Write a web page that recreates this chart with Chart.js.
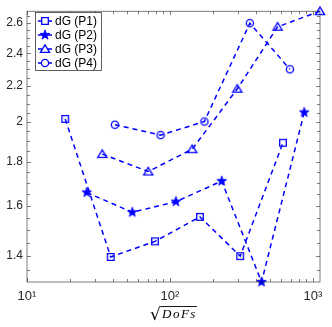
<!DOCTYPE html>
<html>
<head>
<meta charset="utf-8">
<script src="https://cdn.jsdelivr.net/npm/chart.js@4/dist/chart.umd.min.js"></script>
<style>
  html, body { margin: 0; padding: 0; background: #fff; }
</style>
</head>
<body>
<canvas id="myChart" width="332" height="327"></canvas>
<script>
// values
const labels = ['dG (P1)', 'dG (P2)', 'dG (P3)', 'dG (P4)'];
const dofsP1 = [18.5, 38.5, 78.5, 162, 310, 617];
const dgP1 = [2.016, 1.397, 1.456, 1.554, 1.400, 1.892];
const dofsP2 = [26.2, 54.5, 110, 230, 437, 869];
const dgP2 = [1.658, 1.573, 1.618, 1.709, 1.307, 2.051];
const dofsP3 = [33.6, 70.5, 143, 296, 566, 1120];
const dgP3 = [1.836, 1.753, 1.860, 2.184, 2.575, 2.684];
const dofsP4 = [41.2, 86, 174, 362, 690];
const dgP4 = [1.985, 1.931, 2.002, 2.600, 2.300];
const xTicks = [10, 100, 1000];
const yTicks = [1.4, 1.6, 1.8, 2, 2.2, 2.4, 2.6];
const markers = ['square', 'star', 'triangle', 'circle'];

const blue = '#0000ff';
const axisColor = '#262626';

function drawMarker(g, kind, x, y) {
    g.save();
    g.strokeStyle = blue;
    g.fillStyle = blue;
    g.lineWidth = 1.3;
    g.setLineDash([]);
    g.beginPath();
    if (kind === 'square') {
        g.rect(x - 3.3, y - 3.3, 6.6, 6.6);
    } else if (kind === 'circle') {
        g.arc(x, y, 3.6, 0, Math.PI * 2);
    } else if (kind === 'triangle') {
        g.moveTo(x, y - 4.2);
        g.lineTo(x + 4.6, y + 3.3);
        g.lineTo(x - 4.6, y + 3.3);
        g.closePath();
    } else if (kind === 'star') {
        for (let i = 0; i < 10; i++) {
            const r = i % 2 === 0 ? 5.2 : 2.1;
            const a = -Math.PI / 2 + i * Math.PI / 5;
            const px = x + r * Math.cos(a), py = y + r * Math.sin(a);
            if (i === 0) g.moveTo(px, py); else g.lineTo(px, py);
        }
        g.closePath();
        g.fill();
        g.lineWidth = 0.8;
    }
    g.stroke();
    g.restore();
}

function markerCanvas(kind) {
    const c = document.createElement('canvas');
    c.width = 14;
    c.height = 14;
    drawMarker(c.getContext('2d'), kind, 7, 7);
    return c;
}

function toPoints(xs, ys) {
    return xs.map((x, i) => ({ x: x, y: ys[i] }));
}

const series = [[dofsP1, dgP1], [dofsP2, dgP2], [dofsP3, dgP3], [dofsP4, dgP4]];
const allY = [].concat(dgP1, dgP2, dgP3, dgP4);
const allX = [].concat(dofsP1, dofsP2, dofsP3, dofsP4);

const data = {
    datasets: series.map((s, i) => ({
        label: labels[i],
        data: toPoints(s[0], s[1]),
        borderColor: blue,
        backgroundColor: blue,
        borderWidth: 1.5,
        borderDash: [5, 4],
        pointStyle: markerCanvas(markers[i]),
        pointRadius: 5,
        showLine: true,
        fill: false,
        clip: false,
        tension: 0
    }))
};

const sup = { 1: '\u00b9', 2: '\u00b2', 3: '\u00b3' };

// box, inward ticks, legend and the x label
const frame = {
    id: 'frame',
    afterDraw(chart) {
        const ctx = chart.ctx;
        const a = chart.chartArea;
        const xs = chart.scales.x, ys = chart.scales.y;
        ctx.save();
        ctx.strokeStyle = axisColor;
        ctx.lineWidth = 0.6;
        ctx.setLineDash([]);
        ctx.strokeRect(a.left, a.top, a.right - a.left, a.bottom - a.top);

        ctx.beginPath();
        for (let d = 10; d <= 1000; d *= 10) {
            for (let m = 1; m < 10; m++) {
                const v = d * m;
                if (v < xs.min || v > xs.max) continue;
                const px = Math.round(xs.getPixelForValue(v)) + 0.5;
                const len = m === 1 ? 4 : 3;
                ctx.moveTo(px, a.bottom); ctx.lineTo(px, a.bottom - len);
                ctx.moveTo(px, a.top); ctx.lineTo(px, a.top + len);
            }
        }
        for (let k = 26; k <= 54; k++) {
            const v = k * 0.05;
            if (v < ys.min || v > ys.max) continue;
            const py = Math.round(ys.getPixelForValue(v)) + 0.5;
            const len = k % 4 === 0 ? 4 : 3;
            ctx.moveTo(a.left, py); ctx.lineTo(a.left + len, py);
            ctx.moveTo(a.right, py); ctx.lineTo(a.right - len, py);
        }
        ctx.stroke();

        // legend
        const bx = 35.5, by = 12.5, bw = 66, bh = 58;
        ctx.fillStyle = '#fff';
        ctx.fillRect(bx, by, bw, bh);
        ctx.strokeStyle = '#3a3a3a';
        ctx.lineWidth = 0.8;
        ctx.strokeRect(bx, by, bw, bh);
        ctx.font = '12px "Liberation Sans", Arial, sans-serif';
        ctx.textBaseline = 'middle';
        ctx.textAlign = 'left';
        chart.data.datasets.forEach((ds, i) => {
            const ry = by + 8.5 + i * 14;
            ctx.strokeStyle = blue;
            ctx.lineWidth = 1.5;
            ctx.beginPath();
            ctx.moveTo(38, ry); ctx.lineTo(42, ry);
            ctx.moveTo(48, ry); ctx.lineTo(52, ry);
            ctx.stroke();
            drawMarker(ctx, markers[i], 45, ry);
            ctx.fillStyle = '#000';
            ctx.fillText(ds.label, 55, ry + 0.5);
        });

        // sqrt(DoFs)
        ctx.fillStyle = '#000';
        ctx.strokeStyle = '#000';
        ctx.textBaseline = 'alphabetic';
        ctx.font = '17px "DejaVu Serif", serif';
        const rad = ctx.measureText('\u221a');
        const rx = 150;
        const base = 318;
        ctx.fillText('\u221a', rx, base + 2);
        const top = base + 2 - rad.actualBoundingBoxAscent;
        const tx = rx + rad.actualBoundingBoxRight;
        ctx.font = 'italic 13px "Liberation Serif", serif';
        ctx.letterSpacing = '1.5px';
        const tw = ctx.measureText('DoFs').width;
        ctx.fillText('DoFs', tx + 1, base);
        ctx.lineWidth = 0.9;
        ctx.beginPath();
        ctx.moveTo(tx - 0.5, top + 0.5);
        ctx.lineTo(tx + tw + 1, top + 0.5);
        ctx.stroke();
        ctx.restore();
    }
};

const config = {
    type: 'scatter',
    data: data,
    options: {
        responsive: false,
        animation: false,
        layout: { padding: { top: 5, right: 12, left: 0, bottom: 0 } },
        plugins: {
            legend: { display: false },
            tooltip: { enabled: false }
        },
        scales: {
            x: {
                type: 'logarithmic',
                bounds: 'data',
                min: 10,
                max: Math.max(...allX),
                afterBuildTicks: s => { s.ticks = xTicks.map(v => ({ value: v })); },
                afterFit: s => { s.height = 45; },
                grid: { display: false, drawTicks: false },
                border: { display: false },
                ticks: {
                    autoSkip: false,
                    maxRotation: 0,
                    padding: 7,
                    color: axisColor,
                    font: { family: '"Liberation Sans", Arial, sans-serif', size: 13 },
                    callback: v => '10' + sup[Math.round(Math.log10(v))]
                }
            },
            y: {
                type: 'logarithmic',
                bounds: 'data',
                min: Math.min(...allY),
                max: Math.max(...allY),
                afterBuildTicks: s => { s.ticks = yTicks.map(v => ({ value: v })); },
                afterFit: s => { s.width = 27; },
                grid: { display: false, drawTicks: false },
                border: { display: false },
                ticks: {
                    autoSkip: false,
                    padding: 4,
                    color: axisColor,
                    font: { family: '"Liberation Sans", Arial, sans-serif', size: 12 },
                    callback: v => String(v)
                }
            }
        }
    },
    plugins: [frame]
};

new Chart(document.getElementById('myChart'), config);
</script>
</body>
</html>
